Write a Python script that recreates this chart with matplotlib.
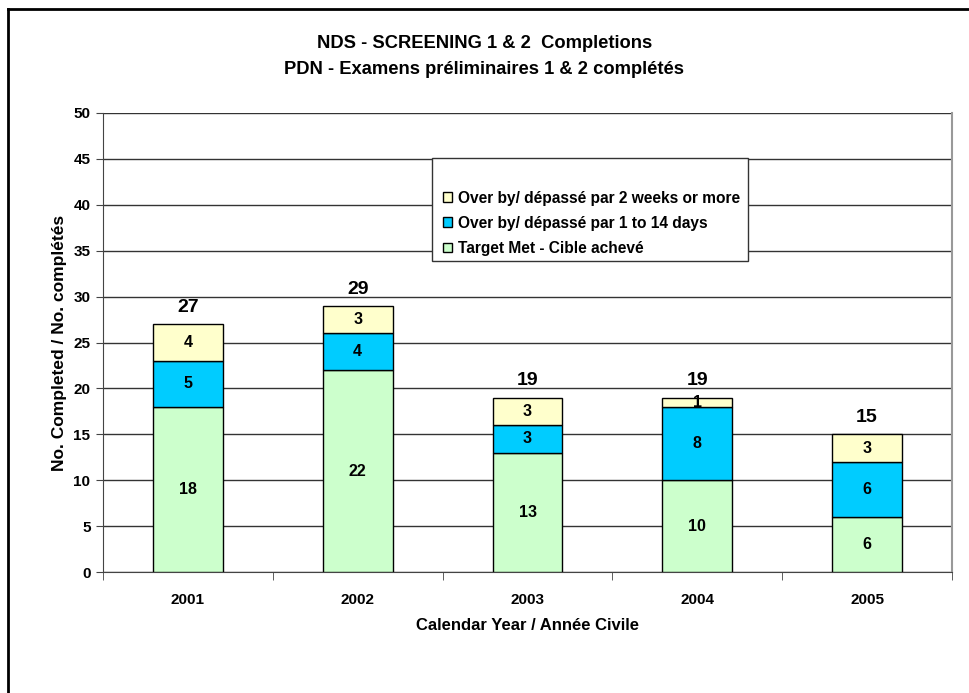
import matplotlib.pyplot as plt
from matplotlib.patches import Rectangle
import numpy as np

plt.rcParams['font.family'] = ['Liberation Sans', 'DejaVu Sans']

years = ['2001', '2002', '2003', '2004', '2005']
target_met = [18, 22, 13, 10, 6]
over_1_14 = [5, 4, 3, 8, 6]
over_2wks = [4, 3, 3, 1, 3]

colors = {'met': '#CCFFCC', 'days': '#00CCFF', 'weeks': '#FFFFCC'}

fig = plt.figure(figsize=(9.69, 6.93), dpi=100)
ax = fig.add_axes([103/969, 1 - 572/693, (952 - 103)/969, (572 - 113)/693])

x = np.arange(len(years))
w = 0.41
b1 = ax.bar(x, target_met, w, color=colors['met'], edgecolor='black', linewidth=1,
            label='Target Met - Cible achevé', zorder=3)
b2 = ax.bar(x, over_1_14, w, bottom=target_met, color=colors['days'], edgecolor='black',
            linewidth=1, label='Over by/ dépassé par 1 to 14 days', zorder=3)
bottom3 = [a + b for a, b in zip(target_met, over_1_14)]
b3 = ax.bar(x, over_2wks, w, bottom=bottom3, color=colors['weeks'], edgecolor='black',
            linewidth=1, label='Over by/ dépassé par 2 weeks or more', zorder=3)

# valeurs dans les segments
for vals, bots in [(target_met, [0]*5), (over_1_14, target_met), (over_2wks, bottom3)]:
    for xi, v, bt in zip(x, vals, bots):
        ax.text(xi, bt + v / 2, str(v), ha='center', va='center', fontsize=11.5,
                fontweight='bold', zorder=4)

totals = [a + b for a, b in zip(bottom3, over_2wks)]
for xi, t in zip(x, totals):
    ax.text(xi, t + 0.9, str(t), ha='center', va='bottom', fontsize=14, fontweight='bold')

ax.set_xlim(-0.5, len(years) - 0.5)
ax.set_ylim(0, 50)
ax.set_yticks(range(0, 51, 5))
ax.yaxis.grid(True, color='#333333', linewidth=1, zorder=0)
ax.set_axisbelow(True)

ax.set_xticks(x)
ax.set_xticklabels(years, fontsize=11, fontweight='bold')
ax.tick_params(axis='x', length=0, pad=15)
ax.set_xticks(np.arange(-0.5, len(years)), minor=True)
ax.tick_params(axis='x', which='minor', length=6, direction='out', color='#444444')
ax.tick_params(axis='y', length=5, direction='out', labelsize=11, pad=4, color='#444444')
for lab in ax.get_yticklabels():
    lab.set_fontweight('bold')

ax.spines['top'].set_visible(False)
ax.spines['right'].set_color('#999999')
ax.spines['right'].set_linewidth(1.5)
ax.spines['left'].set_color('#444444')
ax.spines['bottom'].set_color('#444444')

ax.set_xlabel('Calendar Year / Année Civile', fontsize=12, fontweight='bold', labelpad=8)
ax.set_ylabel('No. Completed / No. complétés', fontsize=12.5, fontweight='bold', labelpad=5)

fig.text(0.5, 1 - 44/693, 'NDS - SCREENING 1 & 2  Completions', ha='center', va='center',
         fontsize=13.2, fontweight='bold')
fig.text(0.5, 1 - 70/693, 'PDN - Examens préliminaires 1 & 2 complétés', ha='center',
         va='center', fontsize=13.2, fontweight='bold')

# cadre de la légende
fig.patches.append(Rectangle((432/969, 1 - 261/693), (748 - 432)/969, (261 - 158)/693,
                             transform=fig.transFigure, facecolor='white', edgecolor='#333333',
                             linewidth=1, zorder=5))
leg = fig.legend(handles=[b3, b2, b1], loc='upper left', bbox_to_anchor=(435/969, 1 - 183/693),
                 frameon=False, fontsize=11.2, handlelength=0.6, handleheight=0.6,
                 handletextpad=0.35, labelspacing=0.65, borderpad=0)
for t in leg.get_texts():
    t.set_fontweight('bold')
leg.set_zorder(6)

# cadre extérieur
fig.add_artist(plt.Line2D([8/969, 8/969], [0, 1 - 9/693], transform=fig.transFigure,
                          color='black', linewidth=2))
fig.add_artist(plt.Line2D([8/969, 1], [1 - 9/693, 1 - 9/693], transform=fig.transFigure,
                          color='black', linewidth=2))

fig.savefig('out.png', dpi=100)
